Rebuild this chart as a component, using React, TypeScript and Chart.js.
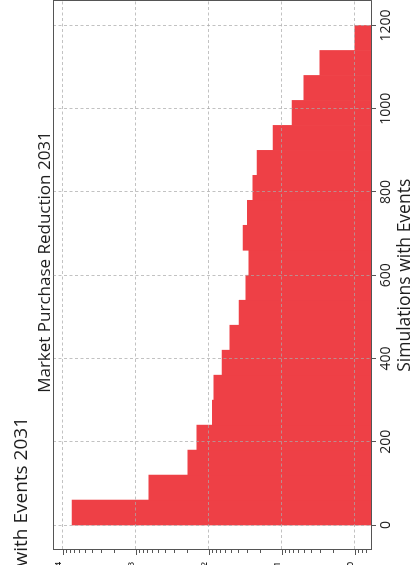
import React, { useEffect, useRef } from 'react';
import { Chart, registerables } from 'chart.js';

Chart.register(...registerables);

// ---- data ----
const binStarts = [0, 60, 120, 180, 240, 300, 360, 420, 480, 540, 600, 660, 720, 780, 840, 900, 960, 1020, 1080, 1140];
const binWidth = 60;
const reductionValues = [7430, 658, 193, 145, 89.5, 84.9, 65.4, 51.3, 38.4, 31.0, 28.2, 33.7, 29.7, 24.9, 21.7, 13.1, 7.21, 4.99, 3.01, 1.0];
const simTicks = [0, 200, 400, 600, 800, 1000, 1200];
const logMajorTicks = [1, 10, 100, 1000, 10000];
const logMajorLabels = ['10⁰', '10¹', '10²', '10³', '10⁴'];
const logMinorMultipliers = [2, 3, 4, 5, 6, 7, 8, 9];
const titleText = 'Market Purchase Reduction 2031';
const supTitleText = 'with Events 2031';
const xAxisTitle = 'Simulations with Events';

// ---- layout / style ----
const CW = 625; // canvas width (unrotated frame)
const CH = 414; // canvas height (unrotated frame)
const U_OFF = 60; // hidden strip on the left of the unrotated frame
const FONT = '"Open Sans", "DejaVu Sans", sans-serif';
const barColor = '#ee4046';
const gridColor = 'rgba(170,170,170,0.9)';
const spineColor = '#555555';
const textColor = '#1e1e1e';
const gridDash = [3, 2.5];
const Y_MIN = 0.604;
const Y_MAX = 13530;

const framePlugin = {
  id: 'frameAndTexts',
  afterDraw(chart: any) {
    const { ctx, chartArea } = chart;
    const { left, right, top, bottom } = chartArea;
    ctx.save();
    // top and right spines
    ctx.strokeStyle = spineColor;
    ctx.lineWidth = 1;
    ctx.beginPath();
    ctx.moveTo(left, Math.round(top) + 0.5);
    ctx.lineTo(right, Math.round(top) + 0.5);
    ctx.moveTo(Math.round(right) - 0.5, top);
    ctx.lineTo(Math.round(right) - 0.5, bottom);
    ctx.stroke();
    // log-axis tick marks (major longer than minor)
    const ys = chart.scales.y;
    ctx.beginPath();
    ys.ticks.forEach((t: any) => {
      const py = Math.round(ys.getPixelForValue(t.value)) + 0.5;
      const len = t.major ? 5 : 3;
      ctx.moveTo(left, py);
      ctx.lineTo(left - len, py);
    });
    ctx.stroke();
    // titles
    ctx.fillStyle = textColor;
    ctx.textBaseline = 'alphabetic';
    ctx.font = `19px ${FONT}`;
    ctx.textAlign = 'right';
    ctx.fillText(supTitleText, 148 + U_OFF, 27);
    ctx.font = `17px ${FONT}`;
    ctx.textAlign = 'center';
    ctx.fillText(titleText, 303 + U_OFF, 50);
    ctx.restore();
  },
};

export default function App() {
  const ref = useRef<HTMLCanvasElement | null>(null);

  useEffect(() => {
    if (!ref.current) return;
    const points = binStarts.map((s, i) => ({ x: s + binWidth / 2, y: reductionValues[i] }));
    const logTicks: { value: number; major: boolean }[] = [];
    logMajorTicks.forEach((m) => {
      logTicks.push({ value: m, major: true });
    });
    [0.1, 1, 10, 100, 1000, 10000].forEach((d) => {
      logMinorMultipliers.forEach((k) => {
        const v = k * d;
        logTicks.push({ value: v, major: false });
      });
    });
    const yTicks = logTicks
      .filter((t) => t.value >= Y_MIN && t.value <= Y_MAX)
      .sort((a, b) => a.value - b.value);

    const chart = new Chart(ref.current, {
      type: 'bar',
      data: {
        datasets: [
          {
            data: points as any,
            backgroundColor: barColor,
            borderWidth: 0,
            barPercentage: 1,
            categoryPercentage: 1,
          },
        ],
      },
      options: {
        animation: false,
        responsive: false,
        maintainAspectRatio: false,
        layout: { padding: { top: 53, right: 0.5, bottom: 0, left: 0 } },
        plugins: {
          legend: { display: false },
          tooltip: { enabled: false },
          title: { display: false },
        },
        scales: {
          x: {
            type: 'linear',
            position: 'bottom',
            min: -60,
            max: 1260,
            offset: false,
            afterBuildTicks: (s: any) => {
              s.ticks = simTicks.map((v) => ({ value: v }));
            },
            afterFit: (s: any) => {
              s.height = 43;
            },
            grid: {
              display: true,
              drawOnChartArea: true,
              drawTicks: true,
              tickLength: 5,
              color: gridColor,
              lineWidth: 0.8,
              tickColor: spineColor,
              tickWidth: 1,
              offset: false,
              z: 1,
            },
            border: { display: true, color: spineColor, width: 1, dash: gridDash, z: 2 },
            ticks: {
              autoSkip: false,
              maxRotation: 0,
              minRotation: 0,
              padding: 2,
              color: textColor,
              font: { family: FONT, size: 14 },
              callback: (v: any) => String(v),
            },
            title: {
              display: true,
              text: xAxisTitle,
              color: textColor,
              font: { family: FONT, size: 17.5, lineHeight: 1 },
              padding: 0,
            },
          },
          y: {
            type: 'logarithmic',
            position: 'left',
            min: Y_MIN,
            max: Y_MAX,
            afterBuildTicks: (s: any) => {
              s.ticks = yTicks.map((t) => ({ value: t.value, major: t.major }));
            },
            afterFit: (s: any) => {
              s.width = 75;
            },
            grid: {
              drawOnChartArea: true,
              drawTicks: false,
              color: gridColor,
              lineWidth: (c: any) => (c.tick && c.tick.major ? 0.8 : 0),
              z: 1,
            },
            border: { display: true, color: spineColor, width: 1, dash: gridDash, z: 2 },
            ticks: {
              autoSkip: false,
              padding: 12,
              color: textColor,
              font: { family: FONT, size: 14 },
              callback: (v: any) => {
                const idx = logMajorTicks.indexOf(Number(v));
                return idx >= 0 ? logMajorLabels[idx] : '';
              },
            },
          },
        },
      } as any,
      plugins: [framePlugin],
    });
    return () => chart.destroy();
  }, []);

  return (
    <div
      style={{
        position: 'fixed',
        left: 0,
        top: 0,
        width: 414,
        height: 565,
        overflow: 'hidden',
        background: '#ffffff',
      }}
    >
      <div
        style={{
          position: 'absolute',
          left: 0,
          top: 0,
          width: CW,
          height: CH,
          transformOrigin: '0 0',
          transform: `translate(0px, ${CW}px) rotate(-90deg)`,
        }}
      >
        <canvas ref={ref} width={CW} height={CH} style={{ display: 'block', width: CW, height: CH }} />
      </div>
    </div>
  );
}
